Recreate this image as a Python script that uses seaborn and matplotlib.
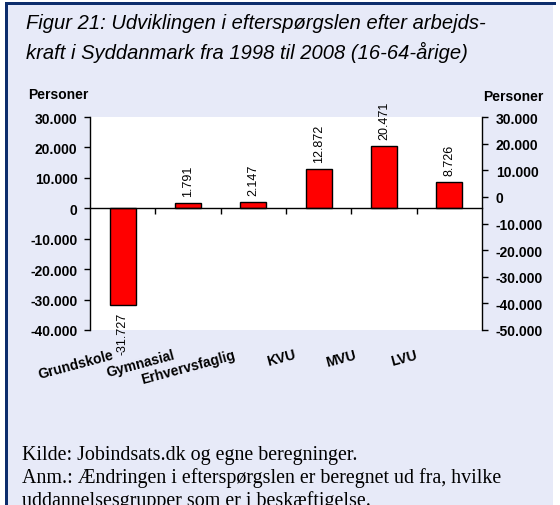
import matplotlib
matplotlib.use('Agg')
import matplotlib.pyplot as plt
from matplotlib.patches import Rectangle
import matplotlib.transforms as mtransforms
from matplotlib.ticker import FuncFormatter, FixedLocator
import seaborn as sns
import pandas as pd

# data
categories = ['Grundskole', 'Gymnasial', 'Erhvervsfaglig', 'KVU', 'MVU', 'LVU']
values = [-31727, 1791, 2147, 12872, 20471, 8726]
left_ticks = [-40000, -30000, -20000, -10000, 0, 10000, 20000, 30000]
right_ticks = [-50000, -40000, -30000, -20000, -10000, 0, 10000, 20000, 30000]

title = ('Figur 21: Udviklingen i efterspørgslen efter arbejds-\n'
         'kraft i Syddanmark fra 1998 til 2008 (16-64-årige)')
note = ('Kilde: Jobindsats.dk og egne beregninger.\n'
        'Anm.: Ændringen i efterspørgslen er beregnet ud fra, hvilke\n'
        'uddannelsesgrupper som er i beskæftigelse.')

def dk(v, pos=None):
    return f'{v:,.0f}'.replace(',', '.')

df = pd.DataFrame({'uddannelse': categories, 'personer': values})

plt.rcParams['font.family'] = ['Liberation Sans', 'DejaVu Sans']
W, H = 560, 506
bg = '#E7EAF8'
navy = '#0D2D6C'

fig = plt.figure(figsize=(W / 100, H / 100), dpi=100)
fig.patch.set_facecolor('white')
# lavender panel with navy rule on top and left
fig.patches.append(Rectangle((5 / W, 0), 548 / W, 503 / H, transform=fig.transFigure,
                             facecolor=bg, edgecolor='none', zorder=-3))
fig.patches.append(Rectangle((5 / W, 0), 3 / W, 503 / H, transform=fig.transFigure,
                             facecolor=navy, edgecolor='none', zorder=-2))
fig.patches.append(Rectangle((5 / W, 500 / H), 551 / W, 3 / H, transform=fig.transFigure,
                             facecolor=navy, edgecolor='none', zorder=-2))

ax = fig.add_axes([90 / W, 1 - 331 / H, 392 / W, 213 / H])
ax.set_facecolor('white')
sns.barplot(data=df, x='uddannelse', y='personer', color='#FF0000', saturation=1,
            width=0.4, edgecolor='black', linewidth=1, ax=ax)
ax.set_xlim(-0.5, len(categories) - 0.5)
ax.set_ylim(left_ticks[0], left_ticks[-1])
ax.set_xlabel('')
ax.set_ylabel('')

for s in ['top', 'right']:
    ax.spines[s].set_visible(False)
ax.spines['bottom'].set_position(('data', 0))
ax.spines['bottom'].set_linewidth(1)
ax.spines['left'].set_linewidth(1)

# category labels hang below the plot, boundary ticks on the zero line
ax.xaxis.set_minor_locator(FixedLocator([i + 0.5 for i in range(len(categories) - 1)]))
ax.tick_params(axis='x', which='major', length=0, pad=100)
ax.tick_params(axis='x', which='minor', length=4, direction='out', width=1)
for i, lab in enumerate(ax.get_xticklabels()):
    lab.set_rotation(15)
    lab.set_ha('right')
    lab.set_va('top')
    lab.set_rotation_mode('anchor')
    lab.set_fontsize(10)
    lab.set_fontweight('bold')
    off = mtransforms.ScaledTranslation((-11 - 4.7 * i) / 100, 0, fig.dpi_scale_trans)
    lab.set_transform(lab.get_transform() + off)

ax.set_yticks(left_ticks)
ax.yaxis.set_major_formatter(FuncFormatter(dk))
ax.tick_params(axis='y', length=4, direction='out', width=1, pad=5, labelsize=10)
for lab in ax.get_yticklabels():
    lab.set_fontweight('bold')

ax.bar_label(ax.containers[0], labels=[dk(v) for v in values], rotation=90,
             padding=5, fontsize=9)

ax2 = ax.twinx()
ax2.set_ylim(right_ticks[0], right_ticks[-1])
ax2.set_yticks(right_ticks)
ax2.yaxis.set_major_formatter(FuncFormatter(dk))
ax2.tick_params(axis='y', length=4, direction='out', width=1, pad=6, labelsize=10)
for lab in ax2.get_yticklabels():
    lab.set_fontweight('bold')
for s in ['top', 'bottom', 'left']:
    ax2.spines[s].set_visible(False)
ax2.spines['right'].set_linewidth(1)

fig.text(28 / W, 1 - 95 / H, 'Personer', fontsize=10, fontweight='bold', ha='left', va='center')
fig.text(483 / W, 1 - 97 / H, 'Personer', fontsize=10, fontweight='bold', ha='left', va='center')

fig.text(26 / W, 1 - 14 / H, title, ha='left', va='top', fontsize=14.5, style='italic',
         linespacing=1.55)
fig.text(22 / W, 1 - 446 / H, note, ha='left', va='top', fontsize=14.4,
         family=['Liberation Serif', 'DejaVu Serif'], linespacing=1.2)

fig.savefig('out.png', dpi=100)
